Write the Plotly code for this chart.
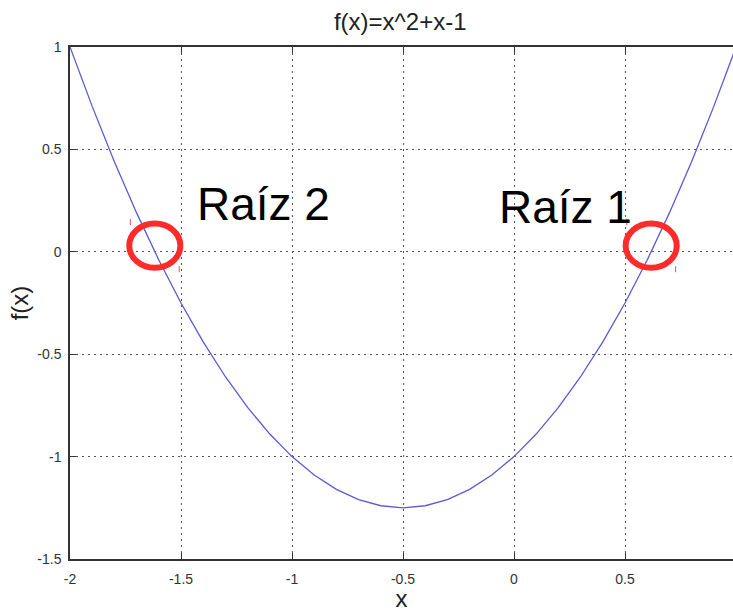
import plotly.graph_objects as go

# f(x) = x^2 + x - 1 sampled on [-2, 1]
x_vals = [-2.0, -1.9, -1.8, -1.7, -1.6, -1.5, -1.4, -1.3, -1.2, -1.1, -1.0,
          -0.9, -0.8, -0.7, -0.6, -0.5, -0.4, -0.3, -0.2, -0.1, 0.0,
          0.1, 0.2, 0.3, 0.4, 0.5, 0.6, 0.7, 0.8, 0.9, 1.0]
y_vals = [1.0, 0.71, 0.44, 0.19, -0.04, -0.25, -0.44, -0.61, -0.76, -0.89, -1.0,
          -1.09, -1.16, -1.21, -1.24, -1.25, -1.24, -1.21, -1.16, -1.09, -1.0,
          -0.89, -0.76, -0.61, -0.44, -0.25, -0.04, 0.19, 0.44, 0.71, 1.0]

# roots of the polynomial
root_labels = ["Raíz 1", "Raíz 2"]
root_x = [0.618, -1.618]

x_ticks = [-2, -1.5, -1, -0.5, 0, 0.5]
x_tick_text = ["-2", "-1.5", "-1", "-0.5", "0", "0.5"]
y_ticks = [1, 0.5, 0, -0.5, -1, -1.5]
y_tick_text = ["1", "0.5", "0", "-0.5", "-1", "-1.5"]

X_RANGE = [-2, 0.9865]
Y_RANGE = [-1.5, 1]
FONT = "Liberation Sans, Arial, sans-serif"
GRID_DASH = "2px,4px"

fig = go.Figure()
fig.add_trace(go.Scatter(x=x_vals, y=y_vals, mode="lines",
                         line=dict(color="#5a5ad8", width=1.3),
                         showlegend=False, hoverinfo="skip"))
# invisible trace to hold the top axis
fig.add_trace(go.Scatter(x=[X_RANGE[0]], y=[Y_RANGE[0]], xaxis="x2", mode="markers",
                         marker=dict(opacity=0), showlegend=False, hoverinfo="skip"))

axis_common = dict(showline=True, linecolor="#333333", linewidth=1.5,
                   ticks="inside", ticklen=6, tickcolor="#333333",
                   zeroline=False,
                   tickfont=dict(family=FONT, size=14, color="#333333"))

fig.update_layout(
    width=733, height=612,
    margin=dict(l=70, r=0, t=47, b=53),
    paper_bgcolor="white", plot_bgcolor="white",
    title=dict(text="f(x)=x^2+x-1", x=0.546, xanchor="center", y=0.964, yanchor="middle",
               font=dict(family=FONT, size=24, color="#222222")),
    xaxis=dict(range=X_RANGE, tickvals=x_ticks, ticktext=x_tick_text,
               showgrid=True, gridcolor="#555555", griddash=GRID_DASH, gridwidth=1.2,
               ticklabelstandoff=6,
               title=dict(text="x", font=dict(family=FONT, size=24, color="#222222"),
                          standoff=2),
               **axis_common),
    xaxis2=dict(range=X_RANGE, overlaying="x", side="top", tickvals=x_ticks,
                showticklabels=False, showgrid=False, **axis_common),
    yaxis=dict(range=Y_RANGE, tickvals=y_ticks, ticktext=y_tick_text,
               showgrid=True, gridcolor="#555555", griddash=GRID_DASH, gridwidth=1.2,
               ticklabelstandoff=4,
               title=dict(text="f(x)", font=dict(family=FONT, size=24, color="#222222"),
                          standoff=2),
               **axis_common),
)

# red circles around each root, with the small red tick marks beside them
for label, rx in zip(root_labels, root_x):
    fig.add_shape(type="circle", xref="x", yref="y",
                  x0=rx - 0.115, x1=rx + 0.115, y0=0.03 - 0.108, y1=0.03 + 0.108,
                  line=dict(color="#ff2b2b", width=6))
    fig.add_shape(type="line", xref="x", yref="y",
                  x0=rx - 0.11, x1=rx - 0.11, y0=0.13, y1=0.16,
                  line=dict(color="#ff5050", width=1))
    fig.add_shape(type="line", xref="x", yref="y",
                  x0=rx + 0.11, x1=rx + 0.11, y0=-0.1, y1=-0.07,
                  line=dict(color="#ff5050", width=1))

fig.add_annotation(text=root_labels[0], x=0.23, y=0.22, xref="x", yref="y",
                   showarrow=False, font=dict(family=FONT, size=46, color="black"))
fig.add_annotation(text=root_labels[1], x=-1.13, y=0.235, xref="x", yref="y",
                   showarrow=False, font=dict(family=FONT, size=46, color="black"))

fig.write_html("out.html")
